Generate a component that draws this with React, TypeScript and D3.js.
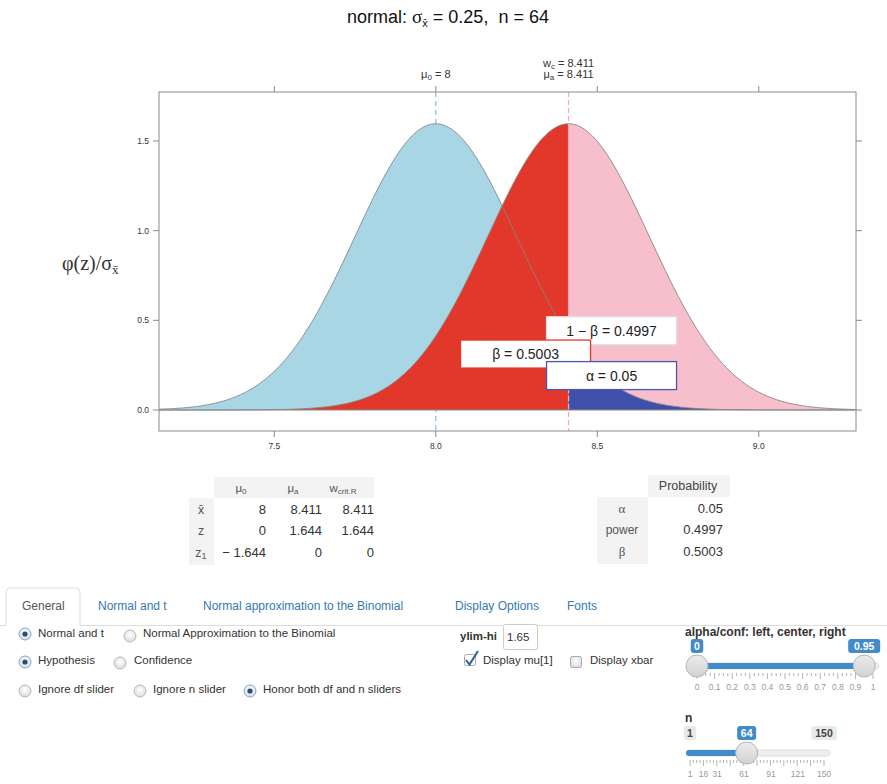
import React from 'react';
import * as d3 from 'd3';

// ---------- data ----------
const mu0 = 8;
const muA = 8.411;
const wCrit = 8.411;
const sigmaXbar = 0.25;
const nObs = 64;
const xLimits = [7.143, 9.301];
const yLimits = [-0.117, 1.773];
const xTicks = [7.5, 8.0, 8.5, 9.0];
const yTicks = [0.0, 0.5, 1.0, 1.5];
const probNames = ['α', 'power', 'β'];
const probValues = ['0.05', '0.4997', '0.5003'];
const labelTexts = ['1 − β = 0.4997', 'β = 0.5003', 'α = 0.05'];
const tableColBase = ['μ', 'μ', 'w'];
const tableColSub = ['0', 'a', 'crit.R'];
const tableRowBase = ['x̄', 'z', 'z'];
const tableRowSub = ['', '', '1'];
const rowXbar = ['8', '8.411', '8.411'];
const rowZ = ['0', '1.644', '1.644'];
const rowZ1 = ['− 1.644', '0', '0'];
const tabNames = ['General', 'Normal and t', 'Normal approximation to the Binomial', 'Display Options', 'Fonts'];
const alphaTickValues = [0, 0.1, 0.2, 0.3, 0.4, 0.5, 0.6, 0.7, 0.8, 0.9, 1];
const alphaHandles = [0, 0.95];
const nTickLabels = [1, 16, 31, 61, 91, 121, 150];
const nRange = [1, 150];
const ylimHi = '1.65';

// ---------- layout ----------
const W = 887, H = 784;
const PL = 159, PR = 856, PT = 92, PB = 431;
const sans = 'Liberation Sans, Arial, Helvetica, sans-serif';
const serif = 'Liberation Serif, DejaVu Serif, serif';

const x = d3.scaleLinear().domain(xLimits).range([PL, PR]);
const y = d3.scaleLinear().domain(yLimits).range([PB, PT]);

const pdf = (v: number, m: number) =>
  Math.exp(-0.5 * ((v - m) / sigmaXbar) ** 2) / (sigmaXbar * Math.sqrt(2 * Math.PI));

const grid = d3.range(xLimits[0], xLimits[1] + 0.0001, 0.004);
const left = grid.filter((v) => v <= wCrit).concat([wCrit]);
const right = [wCrit].concat(grid.filter((v) => v >= wCrit));

const area = (m: number) =>
  d3.area<number>().x((v) => x(v)).y0(y(0)).y1((v) => y(pdf(v, m)));
const line = (m: number) => d3.line<number>().x((v) => x(v)).y((v) => y(pdf(v, m)));

const C = {
  light: '#a9d6e5',
  red: '#e2382b',
  pink: '#f7bfcc',
  dblue: '#3e50a9',
  curve: '#858585',
  frame: '#8a8a8a',
  link: '#3379b5',
  sliderBlue: '#428bca',
};

function Radio({ cx, cy, on }: { cx: number; cy: number; on: boolean }) {
  return (
    <g>
      <circle cx={cx} cy={cy} r={6} fill="url(#radGrad)" stroke={on ? '#7aa8d6' : '#b8b8b8'} strokeWidth={1} />
      {on && <circle cx={cx} cy={cy} r={2.6} fill="#2c4d75" />}
    </g>
  );
}

function Handle({ cx, cy }: { cx: number; cy: number }) {
  return <circle cx={cx} cy={cy} r={11} fill="url(#hGrad)" stroke="#b4b4b4" strokeWidth={1} />;
}

function Bubble({ cx, cy, text, blue }: { cx: number; cy: number; text: string; blue: boolean }) {
  const w = text.length * 6.5 + 6;
  return (
    <g>
      <rect x={cx - w / 2} y={cy - 7} width={w} height={14} rx={3} fill={blue ? C.sliderBlue : '#e9e9e9'} />
      <text x={cx} y={cy + 4} textAnchor="middle" fontSize={10.5} fontWeight="bold" fill={blue ? '#fff' : '#444'} fontFamily={sans}>
        {text}
      </text>
    </g>
  );
}

export default function App() {
  const xc = x(wCrit);
  const x0 = x(mu0);
  const boxW = 130, boxH = 28;
  const boxes = [
    { x: xc - 22, y: y(0.52), stroke: '#dddddd' },
    { x: xc - 108, y: y(0.39), stroke: C.red },
    { x: xc - 22, y: y(0.27), stroke: '#4b55b5' },
  ];

  const sA = d3.scaleLinear().domain([0, 1]).range([697, 873]);
  const sN = d3.scaleLinear().domain(nRange).range([690, 824]);
  const minorA = d3.range(0, 1.0001, 0.025);
  const minorN = d3.range(1, 150.01, 149 / 40);

  const tableRows = [rowXbar, rowZ, rowZ1];
  const colRight = [266, 322, 374];
  const colCenter = [241, 293, 343];
  const rowY = [514, 535, 557];

  return (
    <svg width={W} height={H} style={{ position: 'absolute', left: 0, top: 0, background: '#fff' }} fontFamily={sans}>
      <defs>
        <clipPath id="plotClip">
          <rect x={PL} y={PT} width={PR - PL} height={PB - PT} />
        </clipPath>
        <radialGradient id="radGrad" cx="50%" cy="40%" r="60%">
          <stop offset="0%" stopColor="#ffffff" />
          <stop offset="100%" stopColor="#dcdcdc" />
        </radialGradient>
        <linearGradient id="hGrad" x1="0" y1="0" x2="0" y2="1">
          <stop offset="0%" stopColor="#ececec" />
          <stop offset="100%" stopColor="#d2d2d2" />
        </linearGradient>
      </defs>

      {/* title */}
      <text x={448} y={23} textAnchor="middle" fontSize={18} fill="#111" style={{ whiteSpace: 'pre' }}>
        {'normal: '}
        <tspan fontFamily={serif} fontSize={19}>σ</tspan>
        <tspan fontSize={11} dy={4}>x̄</tspan>
        <tspan dy={-4}>{' = 0.25,\u00a0\u00a0n = 64'}</tspan>
      </text>

      {/* top labels */}
      <text x={x0} y={78} textAnchor="middle" fontSize={11} fill="#333">
        μ<tspan fontSize={8} dy={2}>0</tspan>
        <tspan dy={-2}> = 8</tspan>
      </text>
      <text x={xc} y={67} textAnchor="middle" fontSize={11} fill="#333">
        w<tspan fontSize={8} dy={2}>c</tspan>
        <tspan dy={-2}> = 8.411</tspan>
      </text>
      <text x={xc} y={78} textAnchor="middle" fontSize={11} fill="#333">
        μ<tspan fontSize={8} dy={2}>a</tspan>
        <tspan dy={-2}> = 8.411</tspan>
      </text>

      {/* y label */}
      <text x={62} y={270} fontFamily={serif} fontSize={20} fill="#333">
        φ(z)/σ<tspan fontSize={13} dy={4}>x̄</tspan>
      </text>

      <line x1={x0} x2={x0} y1={PT} y2={PB} stroke="#86c5dc" strokeWidth={1.3} strokeDasharray="5,4" />

      <g clipPath="url(#plotClip)">
        <path d={area(mu0)(grid) || ''} fill={C.light} />
        <path d={area(muA)(left) || ''} fill={C.red} />
        <path d={area(muA)(right) || ''} fill={C.pink} />
        <path d={area(mu0)(right) || ''} fill={C.dblue} />
        <path d={line(muA)(grid) || ''} fill="none" stroke={C.curve} strokeWidth={0.9} />
        <path d={line(mu0)(grid) || ''} fill="none" stroke={C.curve} strokeWidth={0.9} />
        <line x1={PL} x2={PR} y1={y(0)} y2={y(0)} stroke="#8a8a8a" strokeWidth={1} />
      </g>

      <line x1={xc} x2={xc} y1={PT} y2={PB} stroke="#f3a9b9" strokeWidth={1.3} strokeDasharray="5,3" />

      {boxes.map((b, i) => (
        <g key={i}>
          <rect x={b.x} y={b.y} width={boxW} height={boxH} fill="#fff" stroke={b.stroke} strokeWidth={1.3} />
          <text x={b.x + boxW / 2} y={b.y + 19} textAnchor="middle" fontSize={14} fill="#222">
            {labelTexts[i]}
          </text>
        </g>
      ))}

      <rect x={PL} y={PT} width={PR - PL} height={PB - PT} fill="none" stroke={C.frame} strokeWidth={1} />

      {xTicks.map((t) => (
        <g key={'x' + t}>
          <line x1={x(t)} x2={x(t)} y1={PB} y2={PB + 6} stroke={C.frame} />
          <line x1={x(t)} x2={x(t)} y1={PT} y2={PT - 6} stroke={C.frame} />
          <text x={x(t)} y={PB + 18} textAnchor="middle" fontSize={8.5} fill="#333">
            {d3.format('.1f')(t)}
          </text>
        </g>
      ))}
      {yTicks.map((t) => (
        <g key={'y' + t}>
          <line x1={PL - 6} x2={PL} y1={y(t)} y2={y(t)} stroke={C.frame} />
          <line x1={PR} x2={PR + 6} y1={y(t)} y2={y(t)} stroke={C.frame} />
          <text x={PL - 10} y={y(t) + 3} textAnchor="end" fontSize={8.5} fill="#333">
            {d3.format('.1f')(t)}
          </text>
        </g>
      ))}

      {/* left table */}
      <rect x={214} y={477} width={160} height={21} fill="#f3f3f3" />
      <rect x={189} y={498} width={25} height={67} fill="#f3f3f3" />
      {tableColBase.map((b, i) => (
        <text key={'h' + i} x={colCenter[i]} y={492} textAnchor="middle" fontSize={11.5} fill="#555">
          {b}
          <tspan fontSize={8} dy={2}>{tableColSub[i]}</tspan>
        </text>
      ))}
      {tableRowBase.map((b, i) => (
        <text key={'r' + i} x={201} y={rowY[i]} textAnchor="middle" fontSize={12.5} fill="#555">
          {b}
          {tableRowSub[i] && <tspan fontSize={9} dy={2}>{tableRowSub[i]}</tspan>}
        </text>
      ))}
      {tableRows.map((row, ri) =>
        row.map((v, ci) => (
          <text key={ri + '-' + ci} x={colRight[ci]} y={rowY[ri]} textAnchor="end" fontSize={13} fill="#333">
            {v}
          </text>
        ))
      )}

      {/* right table */}
      <rect x={648} y={475} width={82} height={22} fill="#f3f3f3" />
      <rect x={597} y={497} width={51} height={67} fill="#f3f3f3" />
      <text x={688} y={490} textAnchor="middle" fontSize={12.5} fill="#444">Probability</text>
      {probNames.map((p, i) => (
        <g key={'p' + i}>
          <text x={622} y={rowY[i] - 1} textAnchor="middle" fontSize={p === 'power' ? 12 : 13} fontFamily={p === 'power' ? sans : serif} fill="#555">
            {p}
          </text>
          <text x={723} y={rowY[i] - 1} textAnchor="end" fontSize={13} fill="#333">
            {probValues[i]}
          </text>
        </g>
      ))}

      {/* tabs */}
      <line x1={0} x2={W} y1={625.5} y2={625.5} stroke="#dddddd" />
      <path d="M6,626 L6,592 Q6,588 10,588 L76,588 Q80,588 80,592 L80,626" fill="#fff" stroke="#dddddd" />
      <line x1={6.5} x2={79.5} y1={625.5} y2={625.5} stroke="#fff" strokeWidth={2} />
      {tabNames.map((t, i) => (
        <text key={t} x={[22, 98, 203, 455, 567][i]} y={610} fontSize={12} fill={i === 0 ? '#555' : C.link}>
          {t}
        </text>
      ))}

      {/* radio rows */}
      <Radio cx={25} cy={634} on={true} />
      <text x={38} y={637} fontSize={11.5} fill="#333">Normal and t</text>
      <Radio cx={130} cy={636} on={false} />
      <text x={143} y={637} fontSize={11.5} fill="#333">Normal Approximation to the Binomial</text>
      <Radio cx={25} cy={662} on={true} />
      <text x={38} y={664} fontSize={11.5} fill="#333">Hypothesis</text>
      <Radio cx={120} cy={663} on={false} />
      <text x={134} y={664} fontSize={11.5} fill="#333">Confidence</text>
      <Radio cx={25} cy={691} on={false} />
      <text x={38} y={693} fontSize={11.5} fill="#333">Ignore df slider</text>
      <Radio cx={140} cy={691} on={false} />
      <text x={153} y={693} fontSize={11.5} fill="#333">Ignore n slider</text>
      <Radio cx={250} cy={691} on={true} />
      <text x={263} y={693} fontSize={11.5} fill="#333">Honor both df and n sliders</text>

      {/* ylim and checkboxes */}
      <text x={460} y={640} fontSize={11.5} fontWeight="bold" fill="#333">ylim-hi</text>
      <rect x={503.5} y={624.5} width={34} height={25} fill="#fff" stroke="#cccccc" rx={2} />
      <text x={507} y={641} fontSize={11.5} fill="#333">{ylimHi}</text>
      <rect x={464.5} y={654.5} width={11} height={11} rx={2} fill="#fff" stroke="#aaaaaa" />
      <path d="M466,660 L469.5,664.5 L478,651" fill="none" stroke="#2f5d9a" strokeWidth={2} />
      <text x={483} y={664} fontSize={11.5} fill="#333">Display mu[1]</text>
      <rect x={570.5} y={656.5} width={11} height={11} rx={2} fill="url(#radGrad)" stroke="#aaaaaa" />
      <text x={590} y={664} fontSize={11.5} fill="#333">Display xbar</text>

      {/* alpha slider */}
      <text x={685} y={636} fontSize={12} fontWeight="bold" fill="#333">alpha/conf: left, center, right</text>
      <rect x={sA(0) - 6} y={663} width={sA(1) - sA(0) + 12} height={6} rx={3} fill="#eeeeee" stroke="#cccccc" strokeWidth={0.6} />
      <rect x={sA(alphaHandles[0])} y={663} width={sA(alphaHandles[1]) - sA(alphaHandles[0])} height={6} fill={C.sliderBlue} />
      {minorA.map((v, i) => (
        <line key={'ma' + i} x1={sA(v)} x2={sA(v)} y1={673} y2={i % 4 === 0 ? 679 : 676} stroke="#b3b3b3" />
      ))}
      {alphaTickValues.map((v) => (
        <text key={'ta' + v} x={sA(v)} y={690} textAnchor="middle" fontSize={8.5} fill="#999">
          {String(v)}
        </text>
      ))}
      <Handle cx={sA(alphaHandles[0])} cy={666} />
      <Handle cx={sA(alphaHandles[1])} cy={666} />
      <Bubble cx={sA(alphaHandles[0])} cy={646} text={String(alphaHandles[0])} blue={true} />
      <Bubble cx={sA(alphaHandles[1])} cy={646} text={String(alphaHandles[1])} blue={true} />

      {/* n slider */}
      <text x={685} y={722} fontSize={12} fontWeight="bold" fill="#333">n</text>
      <rect x={sN(nRange[0]) - 4} y={750} width={sN(nRange[1]) - sN(nRange[0]) + 10} height={6} rx={3} fill="#eeeeee" stroke="#cccccc" strokeWidth={0.6} />
      <rect x={sN(nRange[0]) - 4} y={750} width={sN(nObs) - sN(nRange[0]) + 4} height={6} rx={3} fill={C.sliderBlue} />
      {minorN.map((v, i) => (
        <line key={'mn' + i} x1={sN(v)} x2={sN(v)} y1={760} y2={i % 4 === 0 ? 766 : 763} stroke="#b3b3b3" />
      ))}
      {nTickLabels.map((v) => (
        <text key={'tn' + v} x={sN(v)} y={777} textAnchor="middle" fontSize={8.5} fill="#999">
          {String(v)}
        </text>
      ))}
      <Handle cx={sN(nObs)} cy={753} />
      <Bubble cx={sN(nRange[0])} cy={733} text={String(nRange[0])} blue={false} />
      <Bubble cx={sN(nObs)} cy={733} text={String(nObs)} blue={true} />
      <Bubble cx={sN(nRange[1])} cy={733} text={String(nRange[1])} blue={false} />
    </svg>
  );
}
